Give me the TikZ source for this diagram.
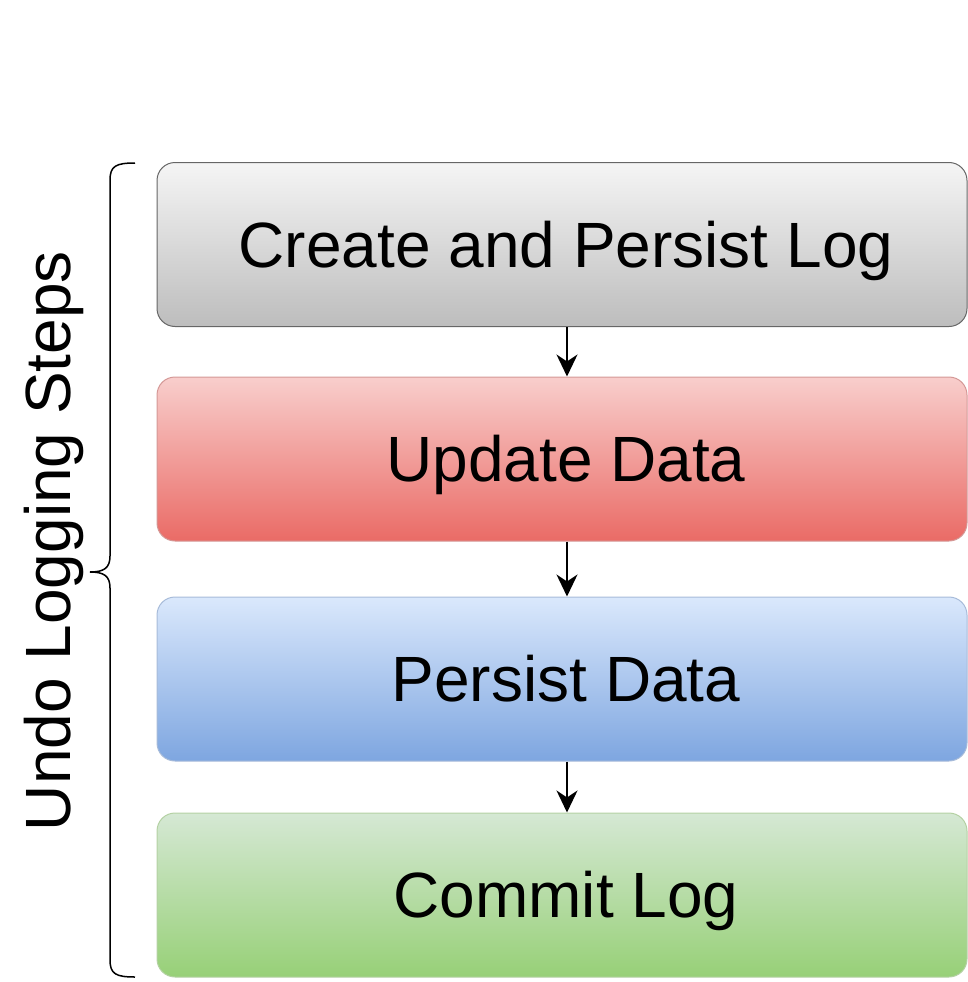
\documentclass[tikz,border=0pt]{standalone}
\usepackage{fontspec}
\setmainfont{Liberation Sans}
\usetikzlibrary{arrows.meta}
\definecolor{grayT}{HTML}{F5F5F5}
\definecolor{grayB}{HTML}{BDBDBD}
\definecolor{grayD}{HTML}{666666}
\definecolor{redT}{HTML}{F8CECC}
\definecolor{redB}{HTML}{EA6B66}
\definecolor{redD}{HTML}{B85450}
\definecolor{bluT}{HTML}{DAE8FC}
\definecolor{bluB}{HTML}{7EA6E0}
\definecolor{bluD}{HTML}{6C8EBF}
\definecolor{grnT}{HTML}{D5E8D4}
\definecolor{grnB}{HTML}{97D077}
\definecolor{grnD}{HTML}{82B366}
\tikzset{
  stepbox/.style={draw, line width=1pt, rounded corners=18pt, minimum width=810pt,
    minimum height=164pt, inner sep=0pt, text height=45.8pt, text depth=0pt,
    font=\fontsize{64}{64}\selectfont},
  flow/.style={line width=2pt, -{Stealth[length=22pt, width=21pt, inset=7pt]}},
  bracepath/.style={line width=1.5pt}
}
\begin{document}
\begin{tikzpicture}[x=1pt,y=-1pt]
\useasboundingbox (0,0) rectangle (968,982);
\node[stepbox, draw=grayD, top color=grayT, bottom color=grayB] (b1) at (562,244.5) {\hspace*{8pt}Create and Persist Log};
\node[stepbox, draw=redD!60, top color=redT, bottom color=redB] (b2) at (562,459) {\hspace*{8pt}Update Data};
\node[stepbox, draw=bluD!60, top color=bluT, bottom color=bluB] (b3) at (562,679) {\hspace*{8pt}Persist Data};
\node[stepbox, draw=grnD!60, top color=grnT, bottom color=grnB] (b4) at (562,895) {\hspace*{8pt}Commit Log};
\draw[flow] ([xshift=5pt]b1.south) -- ([xshift=5pt]b2.north);
\draw[flow] ([xshift=5pt]b2.south) -- ([xshift=5pt]b3.north);
\draw[flow] ([xshift=5pt]b3.south) -- ([xshift=5pt]b4.north);
\draw[bracepath] (135,163) .. controls (116,163) and (110,166) .. (110,180) -- (110,556)
  .. controls (110,568) and (104,572) .. (90,572)
  .. controls (104,572) and (110,576) .. (110,588) -- (110,960)
  .. controls (110,974) and (116,977) .. (135,977);
\node[rotate=90, font=\fontsize{64}{64}\selectfont, inner sep=0pt, text height=45.8pt, text depth=0pt] (lbl) at (48,541) {Undo Logging Steps};
\end{tikzpicture}
\end{document}
